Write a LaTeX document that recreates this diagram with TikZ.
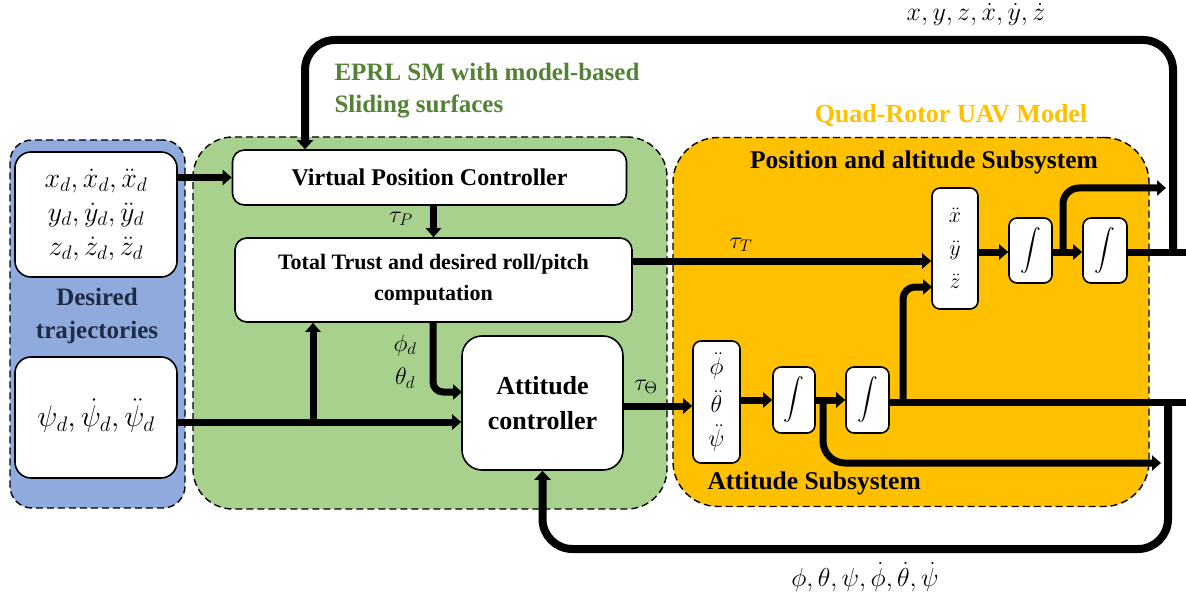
\RequirePackage{fix-cm}
\documentclass[tikz,border=0pt]{standalone}
\usepackage{exscale}
\usepackage{fontspec}
\setmainfont{Liberation Serif}
\usetikzlibrary{arrows.meta,calc}
\definecolor{trajblue}{HTML}{8FAADC}
\definecolor{ctrlgreen}{HTML}{A9D18E}
\definecolor{ctrltext}{HTML}{548235}
\definecolor{uavorange}{HTML}{FFC000}
\definecolor{navytext}{HTML}{1F2A44}
\tikzset{
  group/.style={draw=black, line width=1.4pt, dash pattern=on 7pt off 4pt,
    inner sep=0pt, minimum width=#1},
  block/.style={draw=black, fill=white, line width=1.6pt, rounded corners=12pt,
    inner sep=0pt, align=center},
  wire/.style={line width=7pt},
  sig/.style={line width=7pt, -{Triangle[length=9pt,width=15pt]}},
  loopsig/.style={line width=8pt, -{Triangle[length=9pt,width=16pt]}},
  boldtxt/.style={font=\bfseries\fontsize{#1}{#1}\selectfont, align=center},
  mathtxt/.style={font=\fontsize{#1}{#1}\selectfont}
}
\begin{document}
\begin{tikzpicture}[x=1pt,y=-1pt]
\useasboundingbox (0,0) rectangle (1186,596);

% ---- grouping regions ----
\node[group=175pt, minimum height=368pt, fill=trajblue, rounded corners=22pt] (traj) at (97.5,324) {};
\node[group=474pt, minimum height=372pt, fill=ctrlgreen, rounded corners=40pt] (ctrl) at (430,323) {};
\node[group=476pt, minimum height=369pt, fill=uavorange, rounded corners=45pt] (uav) at (911,322) {};

% ---- group titles ----
\node[boldtxt=25, text=ctrltext, anchor=west] (eprlA) at (331,72) {EPRL SM with model-based};
\node[boldtxt=25, text=ctrltext, anchor=west] (eprlB) at (331,106) {Sliding surfaces};
\node[boldtxt=26, text=uavorange] (uavtitle) at (951,116) {Quad-Rotor UAV Model};
\node[boldtxt=25.5] (postitle) at (924,162) {Position and altitude Subsystem};
\node[boldtxt=25.5, anchor=west] (atttitle) at (704,483) {Attitude Subsystem};
\node[boldtxt=25, text=navytext] (trajtitle) at (97,316) {Desired\\[8pt]trajectories};

% ---- desired trajectory blocks ----
\node[block, rounded corners=16pt, minimum width=162pt, minimum height=125pt] (xyzd) at (96,214.5) {};
\node[mathtxt=28, align=center] (xyzdtxt) at (96,215)
  {$x_d,\dot{x}_d,\ddot{x}_d$\\[6pt]$y_d,\dot{y}_d,\ddot{y}_d$\\[6pt]$z_d,\dot{z}_d,\ddot{z}_d$};
\node[block, rounded corners=16pt, minimum width=162pt, minimum height=121pt] (psid) at (96,417.5) {};
\node[mathtxt=30] (psidtxt) at (96,416) {$\psi_d,\dot{\psi}_d,\ddot{\psi}_d$};

% ---- controller blocks ----
\node[block, minimum width=394pt, minimum height=55pt, boldtxt=24] (vpc) at (429.5,177.5) {Virtual Position Controller};
\node[block, minimum width=397pt, minimum height=84pt, boldtxt=22] (tt) at (433.5,280)
  {Total Trust and desired roll/pitch\\[9pt]computation};
\node[block, rounded corners=20pt, minimum width=161pt, minimum height=134pt, boldtxt=26] (ac) at (542.5,403)
  {Attitude\\[9pt]controller};

% ---- UAV model blocks ----
\node[block, rounded corners=8pt, minimum width=46pt, minimum height=121pt, mathtxt=22] (acc) at (955,248.5)
  {$\ddot{x}$\\[11pt]$\ddot{y}$\\[11pt]$\ddot{z}$};
\node[block, rounded corners=8pt, minimum width=43pt, minimum height=65pt, mathtxt=20] (ip1) at (1030.5,250.5) {$\displaystyle\int$};
\node[block, rounded corners=8pt, minimum width=44pt, minimum height=65pt, mathtxt=20] (ip2) at (1105,250.5) {$\displaystyle\int$};
\node[block, rounded corners=8pt, minimum width=47pt, minimum height=122pt, mathtxt=24] (angacc) at (716.5,402)
  {$\ddot{\phi}$\\[10pt]$\ddot{\theta}$\\[10pt]$\ddot{\psi}$};
\node[block, rounded corners=8pt, minimum width=42pt, minimum height=66pt, mathtxt=20] (ia1) at (794,400) {$\displaystyle\int$};
\node[block, rounded corners=8pt, minimum width=43pt, minimum height=66pt, mathtxt=20] (ia2) at (867.5,400) {$\displaystyle\int$};

% ---- helper points for wires ----
\coordinate (psiout) at (177,422);
\coordinate (psibr) at (313,422);
\coordinate (ttdown) at (433,322);
\coordinate (acin) at (462,392);
\coordinate (ttout) at (632,261);
\coordinate (acout) at (623,406);
\coordinate (accbr) at (903,402);
\coordinate (accin) at (932,287);
\coordinate (angbr) at (823,402);
\coordinate (angend) at (1161,463);
\coordinate (angrow) at (823,463);
\coordinate (angout) at (1186,402);
\coordinate (attfb) at (1168,402);
\coordinate (attbot) at (542.5,549);
\coordinate (posbr) at (1063,252);
\coordinate (posend) at (1166,188);
\coordinate (posout) at (1186,252);
\coordinate (posfb) at (1173,252);
\coordinate (fbtop) at (305,40);

% ---- wires: controller ----
\draw[sig] (xyzd.east |- vpc.west) -- (vpc.west);
\draw[sig] (tt.north |- vpc.south) -- (tt.north);
\draw[sig] (psiout) -- (ac.west |- psiout);
\draw[sig] (psibr) -- (psibr |- tt.south);
\draw[sig, rounded corners=10pt] (ttdown) |- (acin);
\draw[sig] (ttout) -- (acc.west |- ttout);
\draw[sig] (acout) -- (angacc.west |- acout);

% ---- wires: attitude subsystem ----
\draw[sig] (angacc.east |- ia1) -- (ia1.west);
\draw[sig] (ia1.east) -- (ia2.west);
\draw[wire] (ia2.east |- angout) -- (angout);
\draw[sig, rounded corners=12pt] (accbr) |- (accin);
\draw[sig, rounded corners=22pt] (angbr) -- (angrow) -- (angend);

% ---- wires: position subsystem ----
\draw[sig] (acc.east |- posbr) -- (ip1.west |- posbr);
\draw[sig] (ip1.east |- posbr) -- (ip2.west |- posbr);
\draw[wire] (ip2.east |- posout) -- (posout);
\draw[sig, rounded corners=16pt] (posbr) |- (posend);

% ---- feedback loops ----
\draw[loopsig, rounded corners=30pt] (posfb) |- (fbtop) -- (fbtop |- vpc.north);
\draw[loopsig, rounded corners=30pt] (attfb) |- (attbot) -- (ac.south);

% ---- signal labels ----
\node[mathtxt=24] (taup) at (401,219) {$\tau_P$};
\node[mathtxt=24] (phid) at (405,345) {$\phi_d$};
\node[mathtxt=24] (thetad) at (405,378) {$\theta_d$};
\node[mathtxt=24] (taut) at (741,245) {$\tau_T$};
\node[mathtxt=24] (tauth) at (646,387) {$\tau_\Theta$};
\node[mathtxt=26] (poslbl) at (976,15) {$x,y,z,\dot{x},\dot{y},\dot{z}$};
\node[mathtxt=26] (attlbl) at (865,577) {$\phi,\theta,\psi,\dot{\phi},\dot{\theta},\dot{\psi}$};
\end{tikzpicture}
\end{document}
